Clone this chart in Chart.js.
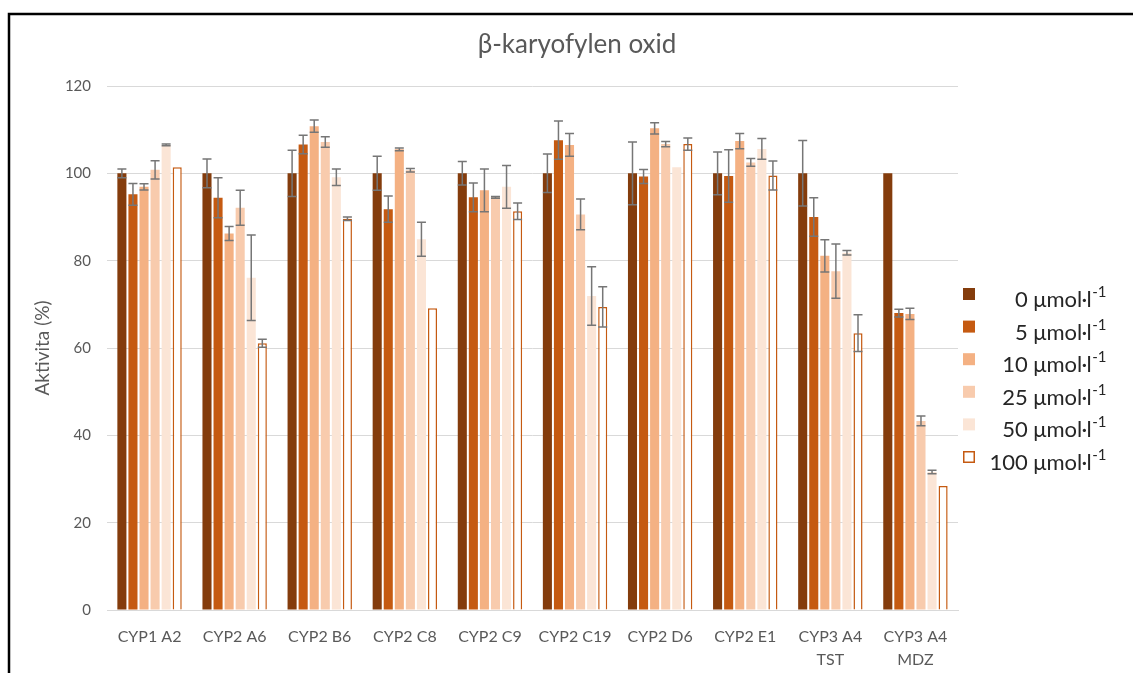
<!DOCTYPE html>
<html lang="cs">
<head>
<meta charset="utf-8">
<title>β-karyofylen oxid</title>
<script src="https://cdn.jsdelivr.net/npm/chart.js@4/dist/chart.umd.min.js"></script>
<style>
  html, body { margin: 0; padding: 0; background: #ffffff; }
  #wrap { width: 1133px; height: 673px; position: relative; }
</style>
</head>
<body>
<div id="wrap"><canvas id="c" width="1133" height="673"></canvas></div>
<script>
// Enzyme activities (% of control) for each CYP isoform
const categories = ['CYP1 A2', 'CYP2 A6', 'CYP2 B6', 'CYP2 C8', 'CYP2 C9', 'CYP2 C19',
                    'CYP2 D6', 'CYP2 E1', ['CYP3 A4', 'TST'], ['CYP3 A4', 'MDZ']];

const seriesNames = ['0 μmol·l', '5 μmol·l', '10 μmol·l', '25 μmol·l', '50 μmol·l', '100 μmol·l'];

const conc0   = [100, 100, 100, 100, 100, 100, 100, 100, 100, 100];
const conc5   = [95.2, 94.4, 106.6, 91.8, 94.5, 107.6, 99.3, 99.4, 90.0, 68.0];
const conc10  = [96.9, 86.2, 110.8, 105.5, 96.1, 106.5, 110.3, 107.4, 81.1, 67.8];
const conc25  = [100.8, 92.1, 107.2, 100.7, 94.5, 90.6, 106.7, 102.5, 77.6, 43.3];
const conc50  = [106.5, 76.1, 99.1, 84.9, 96.9, 71.9, 101.4, 105.6, 81.8, 31.6];
const conc100 = [101.4, 61.1, 89.6, 69.1, 91.3, 69.4, 106.7, 99.5, 63.4, 28.4];

// Standard deviations (null = no error bar)
const err0   = [1.0, 3.3, 5.3, 3.9, 2.7, 4.4, 7.2, 4.9, 7.5, null];
const err5   = [2.5, 4.6, 2.1, 3.0, 3.3, 4.4, 1.6, 6.0, 4.4, 0.9];
const err10  = [0.7, 1.6, 1.4, 0.3, 4.9, 2.6, 1.3, 1.75, 3.7, 1.3];
const err25  = [2.1, 4.0, 1.2, 0.4, 0.2, 3.5, 0.6, 0.9, 6.2, 1.1];
const err50  = [0.2, 9.8, 1.9, 3.9, 4.9, 6.7, null, 2.4, 0.5, 0.4];
const err100 = [null, 0.9, 0.4, null, 1.9, 4.6, 1.4, 3.3, 4.2, null];

const yTicks = [0, 20, 40, 60, 80, 100, 120];

const FONT = 'Lato, "Open Sans", sans-serif';
const GREY_TEXT = '#595959';

const fills   = ['#843C0C', '#C55A11', '#F4B183', '#F8CBAD', '#FBE5D6', '#FFFFFF'];
const borders = [null, null, null, null, null, '#C55A11'];
const values  = [conc0, conc5, conc10, conc25, conc50, conc100];
const errors  = [err0, err5, err10, err25, err50, err100];

const datasets = values.map((v, i) => ({
  label: seriesNames[i],
  data: v,
  errors: errors[i],
  backgroundColor: fills[i],
  borderColor: borders[i] || fills[i],
  borderWidth: borders[i] ? 1.5 : 0,
  categoryPercentage: 0.78,
  barPercentage: 0.82
}));

// White page with the black frame around the chart
const framePlugin = {
  id: 'frame',
  beforeDraw(chart) {
    const ctx = chart.ctx;
    ctx.save();
    ctx.fillStyle = '#ffffff';
    ctx.fillRect(0, 0, chart.width, chart.height);
    ctx.strokeStyle = '#000000';
    ctx.lineWidth = 2.5;
    ctx.beginPath();
    ctx.moveTo(9, chart.height + 5);
    ctx.lineTo(9, 14);
    ctx.lineTo(chart.width + 5, 14);
    ctx.stroke();
    ctx.restore();
  }
};

// Error bars with caps, drawn from each dataset's "errors" array
const errorBarPlugin = {
  id: 'errorBars',
  afterDatasetsDraw(chart) {
    const ctx = chart.ctx;
    const yScale = chart.scales.y;
    ctx.save();
    ctx.strokeStyle = '#767676';
    ctx.lineWidth = 1.5;
    chart.data.datasets.forEach((ds, di) => {
      const meta = chart.getDatasetMeta(di);
      meta.data.forEach((bar, i) => {
        const e = ds.errors[i];
        if (e == null) return;
        const v = ds.data[i];
        const x = bar.x;
        const yTop = yScale.getPixelForValue(v + e);
        const yBot = yScale.getPixelForValue(v - e);
        const cap = 4.5;
        ctx.beginPath();
        ctx.moveTo(x, yTop); ctx.lineTo(x, yBot);
        ctx.moveTo(x - cap, yTop); ctx.lineTo(x + cap, yTop);
        ctx.moveTo(x - cap, yBot); ctx.lineTo(x + cap, yBot);
        ctx.stroke();
      });
    });
    ctx.restore();
  }
};

// Title and right-hand legend with superscript units
const annotatePlugin = {
  id: 'annotate',
  afterDraw(chart) {
    const ctx = chart.ctx;
    ctx.save();
    ctx.fillStyle = GREY_TEXT;
    ctx.font = '26px ' + FONT;
    ctx.textAlign = 'center';
    ctx.textBaseline = 'alphabetic';
    ctx.fillText('β-karyofylen oxid', 577, 53);

    const sqX = 963, sq = 12, y0 = 294, step = 32.6, rightX = 1106;
    chart.data.datasets.forEach((ds, i) => {
      const cy = y0 + i * step;
      if (ds.borderWidth > 0) {
        ctx.fillStyle = '#ffffff';
        ctx.fillRect(sqX, cy - sq / 2, sq, sq);
        ctx.strokeStyle = ds.borderColor;
        ctx.lineWidth = 1.5;
        ctx.strokeRect(sqX + 0.75, cy - sq / 2 + 0.75, sq - 1.5, sq - 1.5);
      } else {
        ctx.fillStyle = ds.backgroundColor;
        ctx.fillRect(sqX, cy - sq / 2, sq, sq);
      }
      ctx.fillStyle = '#262626';
      ctx.textAlign = 'left';
      ctx.font = '15px ' + FONT;
      const sup = '-1';
      const supW = ctx.measureText(sup).width;
      ctx.font = '22px ' + FONT;
      const mainW = ctx.measureText(ds.label).width;
      const startX = rightX - supW - mainW;
      ctx.fillText(ds.label, startX, cy + 13);
      ctx.font = '15px ' + FONT;
      ctx.fillText(sup, startX + mainW + 0.5, cy + 3);
    });
    ctx.restore();
  }
};

new Chart(document.getElementById('c'), {
  type: 'bar',
  data: { labels: categories, datasets },
  plugins: [framePlugin, errorBarPlugin, annotatePlugin],
  options: {
    responsive: false,
    devicePixelRatio: 1,
    animation: false,
    layout: { padding: { left: 0, right: 175, top: 86, bottom: 0 } },
    plugins: {
      legend: { display: false },
      title: { display: false },
      tooltip: { enabled: false }
    },
    scales: {
      x: {
        grid: { display: false },
        border: { display: true, color: '#d9d9d9', width: 1 },
        ticks: {
          color: GREY_TEXT,
          font: { family: FONT, size: 16, lineHeight: 1.4 },
          padding: 8,
          maxRotation: 0,
          autoSkip: false
        },
        afterFit(s) { s.height = 63; }
      },
      y: {
        min: 0,
        max: 120,
        afterBuildTicks(s) { s.ticks = yTicks.map(v => ({ value: v })); },
        grid: { color: '#d9d9d9', lineWidth: 1, drawTicks: false },
        border: { display: false },
        ticks: {
          color: GREY_TEXT,
          font: { family: FONT, size: 15 },
          padding: 16
        },
        title: {
          display: true,
          text: 'Aktivita (%)',
          color: GREY_TEXT,
          font: { family: FONT, size: 19 },
          padding: { top: 31, bottom: 0 }
        },
        afterFit(s) { s.width = 107; }
      }
    }
  }
});
</script>
</body>
</html>
